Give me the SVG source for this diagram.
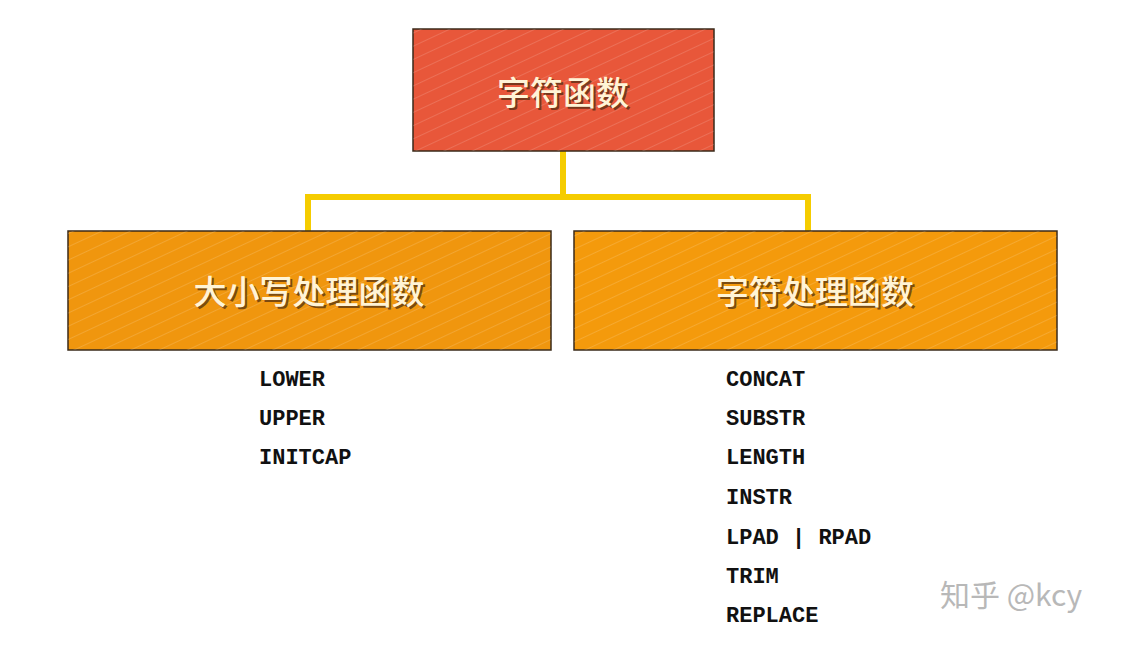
<svg xmlns="http://www.w3.org/2000/svg" width="1132" height="645" viewBox="0 0 1132 645">
<style>
.box{stroke:#3a2a1a;stroke-width:1.5}
.t{font-family:"Noto Sans CJK SC",sans-serif;font-size:33px;fill:#fff4d6;text-anchor:middle;font-weight:500}
.sh{fill:#4a2a10;opacity:0.7}
.m{font-family:"Liberation Mono",monospace;font-size:22px;font-weight:bold;fill:#111}
.c{stroke:#f5cc00;stroke-width:6;fill:none}
</style>
<defs>
<pattern id="st" width="12" height="12" patternUnits="userSpaceOnUse" patternTransform="rotate(-25)">
<line x1="0" y1="0" x2="12" y2="0" stroke="#ffffff" stroke-opacity="0.15" stroke-width="2"/>
</pattern>
</defs>
<rect width="1132" height="645" fill="#fff"/>
<g id="connectors">
<path class="c" d="M563 151V197M308 231V197H808V231"/>
</g>
<g id="root">
<rect class="box" x="413" y="29" width="301" height="122" fill="#e8573a"/>
<rect x="413" y="29" width="301" height="122" fill="url(#st)"/>
<text class="t sh" x="565" y="107">字符函数</text>
<text class="t" x="563" y="105">字符函数</text>
</g>
<g id="case">
<rect class="box" x="68" y="231" width="483" height="119" fill="#f0960e"/>
<rect x="68" y="231" width="483" height="119" fill="url(#st)"/>
<text class="t sh" x="311" y="306">大小写处理函数</text>
<text class="t" x="309" y="304">大小写处理函数</text>
</g>
<g id="char">
<rect class="box" x="574" y="231" width="483" height="119" fill="#f49a0c"/>
<rect x="574" y="231" width="483" height="119" fill="url(#st)"/>
<text class="t sh" x="817" y="306">字符处理函数</text>
<text class="t" x="815" y="304">字符处理函数</text>
</g>
<g id="list1" class="m">
<text x="259" y="386">LOWER</text>
<text x="259" y="425">UPPER</text>
<text x="259" y="464">INITCAP</text>
</g>
<g id="list2" class="m">
<text x="726" y="386">CONCAT</text>
<text x="726" y="425">SUBSTR</text>
<text x="726" y="464">LENGTH</text>
<text x="726" y="504">INSTR</text>
<text x="726" y="544">LPAD | RPAD</text>
<text x="726" y="583">TRIM</text>
<text x="726" y="622">REPLACE</text>
</g>
<text x="940" y="606" font-family="Noto Sans CJK SC,sans-serif" font-size="30" fill="#b8b8b8">知乎 @kcy</text>
</svg>
